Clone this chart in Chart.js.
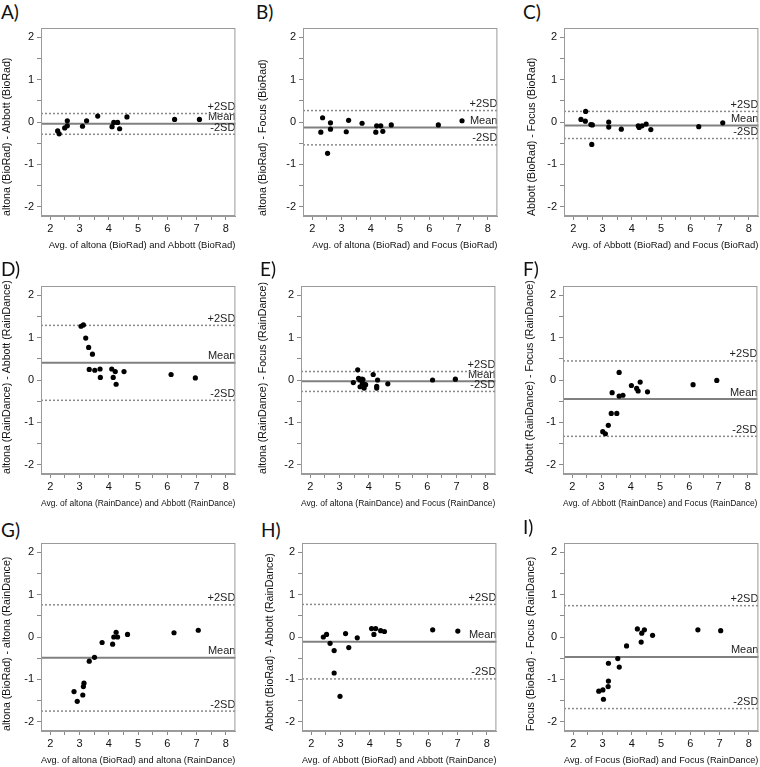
<!DOCTYPE html>
<html>
<head>
<meta charset="utf-8">
<script src="https://cdn.jsdelivr.net/npm/chart.js@4.4.0/dist/chart.umd.min.js"></script>
<style>
  html, body { margin: 0; padding: 0; background: #fff; overflow: hidden; }
  body { width: 760px; height: 767px; position: relative; }
  canvas { position: absolute; }
  .tag { position: absolute; font-family: Lato, sans-serif; font-size: 19px; line-height: 19px; color: #111; }
</style>
</head>
<body>
<script>
// Bland-Altman data: average (x) and difference (y) per panel
// limits are [mean, +2SD, -2SD]
var aAvg = [2.25, 2.30, 2.49, 2.58, 2.58, 3.10, 3.24, 3.62, 4.11, 4.17, 4.30, 4.37, 4.62, 6.25, 7.10];
var aDiff = [-0.21, -0.28, -0.14, 0.03, -0.09, -0.10, 0.03, 0.14, -0.11, -0.01, -0.01, -0.16, 0.12, 0.06, 0.06];
var aLimits = [-0.04, 0.20, -0.29];

var bAvg = [2.29, 2.35, 2.52, 2.62, 2.62, 3.16, 3.24, 3.70, 4.17, 4.20, 4.34, 4.41, 4.70, 6.31, 7.12];
var bDiff = [-0.24, 0.10, -0.74, -0.02, -0.17, -0.23, 0.04, -0.03, -0.24, -0.09, -0.09, -0.22, -0.07, -0.07, 0.03];
var bLimits = [-0.13, 0.27, -0.54];

var cAvg = [2.26, 2.41, 2.42, 2.60, 2.65, 2.63, 3.21, 3.21, 3.64, 4.22, 4.25, 4.35, 4.49, 4.65, 6.29, 7.11];
var cDiff = [0.06, 0.02, 0.25, -0.06, -0.07, -0.53, 0.00, -0.12, -0.17, -0.09, -0.13, -0.09, -0.05, -0.18, -0.11, -0.02];
var cLimits = [-0.08, 0.25, -0.39];

var dAvg = [3.05, 3.13, 3.21, 3.31, 3.44, 3.33, 3.52, 3.70, 3.71, 4.10, 4.15, 4.22, 4.25, 4.52, 6.13, 6.96];
var dDiff = [1.27, 1.30, 0.99, 0.77, 0.61, 0.25, 0.23, 0.26, 0.06, 0.26, 0.06, 0.20, -0.10, 0.20, 0.13, 0.05];
var dLimits = [0.41, 1.29, -0.48];

var eAvg = [3.47, 3.62, 3.65, 3.70, 3.70, 3.77, 3.78, 3.80, 3.84, 3.89, 4.15, 4.27, 4.27, 4.30, 4.65, 6.18, 6.96];
var eDiff = [-0.06, 0.24, 0.04, 0.00, -0.16, 0.02, -0.08, 0.01, -0.19, -0.11, 0.13, -0.19, -0.15, 0.00, -0.09, 0.00, 0.02];
var eLimits = [-0.03, 0.20, -0.27];

var fAvg = [3.04, 3.13, 3.23, 3.33, 3.52, 3.36, 3.60, 3.60, 3.73, 4.02, 4.20, 4.25, 4.32, 4.57, 6.13, 6.94];
var fDiff = [-1.22, -1.27, -1.07, -0.79, -0.79, -0.30, 0.18, -0.38, -0.36, -0.13, -0.20, -0.26, -0.05, -0.28, -0.11, -0.01];
var fLimits = [-0.45, 0.45, -1.33];

var gAvg = [2.81, 2.92, 3.11, 3.13, 3.15, 3.33, 3.51, 3.77, 4.13, 4.17, 4.25, 4.30, 4.64, 6.23, 7.06];
var gDiff = [-1.29, -1.52, -1.37, -1.17, -1.09, -0.57, -0.48, -0.13, -0.17, 0.00, 0.11, 0.00, 0.06, 0.10, 0.16];
var gLimits = [-0.49, 0.76, -1.75];

var hAvg = [2.41, 2.52, 2.64, 2.78, 2.78, 2.98, 3.17, 3.28, 3.57, 4.06, 4.20, 4.14, 4.37, 4.50, 6.15, 7.01];
var hDiff = [0.00, 0.06, -0.15, -0.32, -0.85, -1.40, 0.08, -0.25, -0.02, 0.20, 0.20, 0.06, 0.15, 0.13, 0.17, 0.14];
var hLimits = [-0.11, 0.77, -0.99];

var iAvg = [2.87, 3.01, 3.03, 3.19, 3.20, 3.20, 3.52, 3.57, 3.82, 4.19, 4.32, 4.34, 4.43, 4.71, 6.26, 7.04];
var iDiff = [-1.28, -1.25, -1.47, -1.17, -1.04, -0.62, -0.51, -0.71, -0.21, 0.19, -0.12, 0.09, 0.17, 0.04, 0.17, 0.15];
var iLimits = [-0.47, 0.74, -1.69];

var limitLabels = ['Mean', '+2SD', '-2SD'];
var xTicksMin = 1.68, xTicksMax = 8.33;
var yTicksMin = -2.22, yTicksMax = 2.22;

// panel placement (plot area left/top, letter position, gap from plot to y title)
var panels = [
  {tag: 'A)', avg: aAvg, diff: aDiff, lim: aLimits, yTitle: 'altona (BioRad) - Abbott (BioRad)', xTitle: 'Avg. of altona (BioRad) and Abbott (BioRad)', left: 41, top: 28, tx: 1, ty: 5, gap: 34},
  {tag: 'B)', avg: bAvg, diff: bDiff, lim: bLimits, yTitle: 'altona (BioRad) - Focus (BioRad)', xTitle: 'Avg. of altona (BioRad) and Focus (BioRad)', left: 303, top: 28, tx: 256, ty: 5, gap: 40},
  {tag: 'C)', avg: cAvg, diff: cDiff, lim: cLimits, yTitle: 'Abbott (BioRad) - Focus (BioRad)', xTitle: 'Avg. of Abbott (BioRad) and Focus (BioRad)', left: 564, top: 28, tx: 523, ty: 5, gap: 32},
  {tag: 'D)', avg: dAvg, diff: dDiff, lim: dLimits, yTitle: 'altona (RainDance) - Abbott (RainDance)', xTitle: 'Avg. of altona (RainDance) and Abbott (RainDance)', left: 41, top: 286, tx: 1, ty: 262, gap: 34},
  {tag: 'E)', avg: eAvg, diff: eDiff, lim: eLimits, yTitle: 'altona (RainDance) - Focus (RainDance)', xTitle: 'Avg. of altona (RainDance) and Focus (RainDance)', left: 301, top: 286, tx: 260, ty: 262, gap: 38},
  {tag: 'F)', avg: fAvg, diff: fDiff, lim: fLimits, yTitle: 'Abbott (RainDance) - Focus (RainDance)', xTitle: 'Avg. of Abbott (RainDance) and Focus (RainDance)', left: 563, top: 286, tx: 523, ty: 262, gap: 33},
  {tag: 'G)', avg: gAvg, diff: gDiff, lim: gLimits, yTitle: 'altona (BioRad) - altona (RainDance)', xTitle: 'Avg. of altona (BioRad) and altona (RainDance)', left: 41, top: 543, tx: 1, ty: 523, gap: 34},
  {tag: 'H)', avg: hAvg, diff: hDiff, lim: hLimits, yTitle: 'Abbott (BioRad) - Abbott (RainDance)', xTitle: 'Avg. of Abbott (BioRad) and Abbott (RainDance)', left: 302, top: 543, tx: 261, ty: 523, gap: 32},
  {tag: 'I)', avg: iAvg, diff: iDiff, lim: iLimits, yTitle: 'Focus (BioRad) - Focus (RainDance)', xTitle: 'Avg. of Focus (BioRad) and Focus (RainDance)', left: 564, top: 543, tx: 523, ty: 520, gap: 33}
];

var PLOT_W = 195, PLOT_H = 188, TOP_PAD = 28, X_AXIS_H = 42, RIGHT_PAD = 2;
var FONT = '"Liberation Sans", Arial, sans-serif';

// mean and +/-2SD lines with their labels
var refPlugin = {
  id: 'refLines',
  beforeDatasetsDraw: function(chart, args, opts) {
    var ctx = chart.ctx, area = chart.chartArea, y = chart.scales.y;
    var lim = opts.lim;
    ctx.save();
    for (var i = 0; i < lim.length; i++) {
      var py = y.getPixelForValue(lim[i]);
      ctx.beginPath();
      if (i == 0) {
        ctx.setLineDash([]);
        ctx.strokeStyle = '#808080';
        ctx.lineWidth = 2;
      } else {
        ctx.setLineDash([2, 2]);
        ctx.strokeStyle = '#8a8a8a';
        ctx.lineWidth = 1.5;
      }
      ctx.moveTo(area.left, py);
      ctx.lineTo(area.right, py);
      ctx.stroke();

      ctx.fillStyle = '#222';
      ctx.font = '11px ' + FONT;
      ctx.textAlign = 'right';
      ctx.textBaseline = 'bottom';
      ctx.fillText(limitLabels[i], area.right, py - 1);
    }
    ctx.restore();
  }
};

// box around the plot area
var framePlugin = {
  id: 'frame',
  afterDraw: function(chart) {
    var ctx = chart.ctx, a = chart.chartArea;
    ctx.save();
    ctx.strokeStyle = '#9a9a9a';
    ctx.lineWidth = 1;
    ctx.strokeRect(a.left + 0.5, a.top + 0.5, a.right - a.left - 1, a.bottom - a.top - 1);
    ctx.restore();
  }
};

var intLabel = function(v) {
  return Math.abs(v - Math.round(v)) < 1e-9 ? Math.round(v) : '';
};

for (var k = 0; k < panels.length; k++) {
  var p = panels[k];

  var tag = document.createElement('div');
  tag.className = 'tag';
  tag.textContent = p.tag;
  tag.style.left = p.tx + 'px';
  tag.style.top = (p.ty - 3) + 'px';
  document.body.appendChild(tag);

  var axisW = p.gap + 10;
  var canvas = document.createElement('canvas');
  canvas.width = axisW + PLOT_W + RIGHT_PAD;
  canvas.height = TOP_PAD + PLOT_H + X_AXIS_H;
  canvas.style.left = (p.left - axisW) + 'px';
  canvas.style.top = (p.top - TOP_PAD) + 'px';
  canvas.style.width = canvas.width + 'px';
  canvas.style.height = canvas.height + 'px';
  document.body.appendChild(canvas);

  var points = [];
  for (var i = 0; i < p.avg.length; i++) {
    points.push({x: p.avg[i], y: p.diff[i]});
  }

  (function(axisW) {
    new Chart(canvas.getContext('2d'), {
      type: 'scatter',
      data: {
        datasets: [{
          data: points,
          backgroundColor: '#000',
          borderWidth: 0,
          pointRadius: 2.6,
          pointHoverRadius: 2.6
        }]
      },
      options: {
        responsive: false,
        animation: false,
        devicePixelRatio: 1,
        layout: {padding: {top: TOP_PAD, right: RIGHT_PAD, left: 0, bottom: 0}},
        plugins: {
          legend: {display: false},
          tooltip: {enabled: false},
          refLines: {lim: p.lim}
        },
        scales: {
          x: {
            type: 'linear',
            min: xTicksMin,
            max: xTicksMax,
            afterFit: function(s) { s.height = X_AXIS_H; },
            ticks: {
              stepSize: 0.5, includeBounds: false, autoSkip: false, maxRotation: 0,
              padding: 2, color: '#111', font: {family: FONT, size: 11},
              callback: intLabel
            },
            grid: {drawOnChartArea: false, drawTicks: true, tickLength: 4, color: '#8a8a8a'},
            border: {color: '#9a9a9a', width: 1},
            title: {
              display: true, text: p.xTitle, align: 'end', color: '#111',
              font: {family: FONT, size: 9.5}, padding: {top: 0, bottom: 7}
            }
          },
          y: {
            type: 'linear',
            min: yTicksMin,
            max: yTicksMax,
            afterFit: function(s) { s.width = axisW; },
            ticks: {
              stepSize: 0.5, includeBounds: false, autoSkip: false,
              padding: 3, color: '#111', font: {family: FONT, size: 11},
              callback: intLabel
            },
            grid: {drawOnChartArea: false, drawTicks: true, tickLength: 4, color: '#8a8a8a'},
            border: {color: '#9a9a9a', width: 1},
            title: {
              display: true, text: p.yTitle, align: 'start', color: '#111',
              font: {family: FONT, size: 10.6}, padding: {top: 4, bottom: 0}
            }
          }
        }
      },
      plugins: [refPlugin, framePlugin]
    });
  })(axisW);
}
</script>
</body>
</html>
